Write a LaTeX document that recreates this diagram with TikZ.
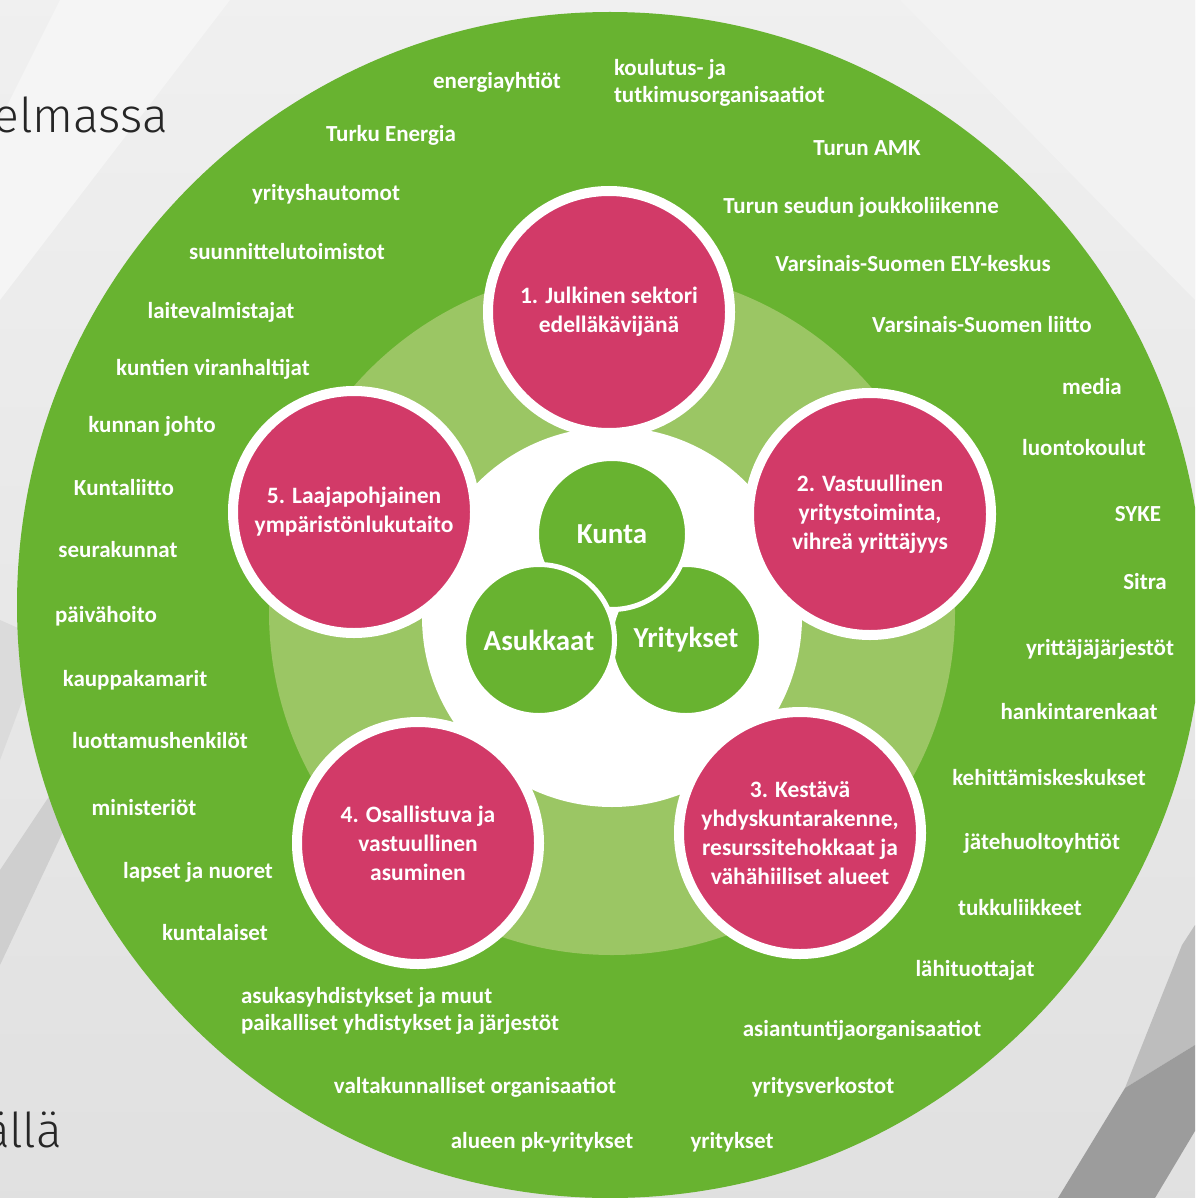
\documentclass[tikz,border=0pt]{standalone}
\usepackage{fontspec}
\setmainfont{Carlito}
\newfontfamily\slidefont{Fira Sans Light}
\usepackage{tikz}

\definecolor{groen}{RGB}{104,179,48}
\definecolor{lichtgroen}{RGB}{155,198,100}
\definecolor{roze}{RGB}{210,58,104}

\begin{document}
\begin{tikzpicture}[x=1pt, y=-1pt, inner sep=0, outer sep=0,
    lbl/.style={text=white, font=\fontsize{23}{27}\selectfont\bfseries, text height=19pt, text depth=2pt},
    doel/.style={circle, draw=white, line width=10pt, fill=roze, minimum size=242pt,
        text=white, align=center, font=\fontsize{23.5}{29}\selectfont\bfseries},
    kern/.style={circle, draw=white, line width=5pt, fill=groen, minimum size=151pt,
        text=white, font=\fontsize{29}{34}\selectfont\bfseries}]
    \useasboundingbox (0,0) rectangle (1195,1198);
    \clip (0,0) rectangle (1195,1198);
    % achtergrond
    \shade[top color=black!6, bottom color=black!12] (0,0) rectangle (1195,1198);
    \fill[black!4] (60,0) -- (230,0) -- (0,300) -- (0,120) -- cycle;
    \fill[black!5] (900,0) -- (1195,0) -- (1195,300) -- cycle;
    \fill[black!14] (0,620) -- (45,640) -- (0,760) -- cycle;
    \fill[black!19] (0,870) -- (60,780) -- (78,800) -- (0,965) -- cycle;
    \fill[black!26] (1125,1088) -- (1182,945) -- (1195,925) -- (1195,1045) -- cycle;
    \fill[black!39] (1058,1198) -- (1125,1088) -- (1195,1045) -- (1195,1131) -- (1155,1198) -- cycle;
    % tekst van de dia
    \node[anchor=base east, text=black!85, font=\slidefont\fontsize{48}{52}\selectfont] (kop) at (168,133) {elmassa};
    \node[anchor=base east, text=black!85, font=\slidefont\fontsize{48}{52}\selectfont] (voet) at (62,1147) {ällä};
    % ringen
    \fill[groen] (610,605) circle[radius=593pt];
    \fill[lichtgroen] (612,612) circle[radius=343pt];
    \fill[white] (612,617) circle[radius=190pt];
    % buitenring
    \node[lbl] (energia) at (497,80) {energiayhtiöt};
    \node[lbl, anchor=west, align=left, text height=, text depth=] (koulutus) at (614,83) {koulutus- ja\\tutkimusorganisaatiot};
    \node[lbl] (turkuenergia) at (391,133) {Turku Energia};
    \node[lbl] (amk) at (867,147) {Turun AMK};
    \node[lbl] (hautomot) at (326,192) {yrityshautomot};
    \node[lbl] (joukkoliikenne) at (861,205) {Turun seudun joukkoliikenne};
    \node[lbl] (suunnittelu) at (287,251) {suunnittelutoimistot};
    \node[lbl] (ely) at (913,263) {Varsinais-Suomen ELY-keskus};
    \node[lbl] (laitteet) at (221,310) {laitevalmistajat};
    \node[lbl] (liitto) at (982,324) {Varsinais-Suomen liitto};
    \node[lbl] (viranhaltijat) at (213,367) {kuntien viranhaltijat};
    \node[lbl] (media) at (1092,386) {media};
    \node[lbl] (johto) at (152,424) {kunnan johto};
    \node[lbl] (luonto) at (1084,447) {luontokoulut};
    \node[lbl] (kuntaliitto) at (124,487) {Kuntaliitto};
    \node[lbl] (syke) at (1138,513) {SYKE};
    \node[lbl] (seurakunnat) at (118,549) {seurakunnat};
    \node[lbl] (sitra) at (1145,581) {Sitra};
    \node[lbl] (paivahoito) at (106,614) {päivähoito};
    \node[lbl] (yrittajat) at (1100,647) {yrittäjäjärjestöt};
    \node[lbl] (kauppakamarit) at (135,678) {kauppakamarit};
    \node[lbl] (hankinta) at (1079,711) {hankintarenkaat};
    \node[lbl] (luottamus) at (160,740) {luottamushenkilöt};
    \node[lbl] (kehittamis) at (1049,777) {kehittämiskeskukset};
    \node[lbl] (ministeriot) at (144,807) {ministeriöt};
    \node[lbl] (jatehuolto) at (1042,841) {jätehuoltoyhtiöt};
    \node[lbl] (lapset) at (198,870) {lapset ja nuoret};
    \node[lbl] (tukku) at (1020,907) {tukkuliikkeet};
    \node[lbl] (kuntalaiset) at (215,932) {kuntalaiset};
    \node[lbl] (lahituottajat) at (975,968) {lähituottajat};
    \node[lbl, anchor=west, align=left, text height=, text depth=] (asukasyhd) at (241,1011) {asukasyhdistykset ja muut\\paikalliset yhdistykset ja järjestöt};
    \node[lbl] (asiantuntija) at (862,1028) {asiantuntijaorganisaatiot};
    \node[lbl] (valtakunnalliset) at (475,1085) {valtakunnalliset organisaatiot};
    \node[lbl] (verkostot) at (823,1085) {yritysverkostot};
    \node[lbl] (pkyritykset) at (542,1140) {alueen pk-yritykset};
    \node[lbl] (yritykset) at (732,1140) {yritykset};
    % tavoitteet
    \node[doel] (julkinen) at (609,312) {1. Julkinen sektori\\edelläkävijänä};
    \node[doel] (vastuullinen) at (870,514) {2. Vastuullinen\\yritystoiminta,\\vihreä yrittäjyys};
    \node[doel] (kestava) at (800,833) {3. Kestävä\\yhdyskuntarakenne,\\resurssitehokkaat ja\\vähähiiliset alueet};
    \node[doel] (osallistuva) at (418,843) {4. Osallistuva ja\\vastuullinen\\asuminen};
    \node[doel] (laajapohjainen) at (354,512) {5. Laajapohjainen\\ympäristönlukutaito};
    % kern
    \node[kern] (yrityksetkern) at (686,640) {Yritykset};
    \node[kern] (kunta) at (612,534) {Kunta};
    \node[kern] (asukkaat) at (539,640) {Asukkaat};
\end{tikzpicture}
\end{document}
